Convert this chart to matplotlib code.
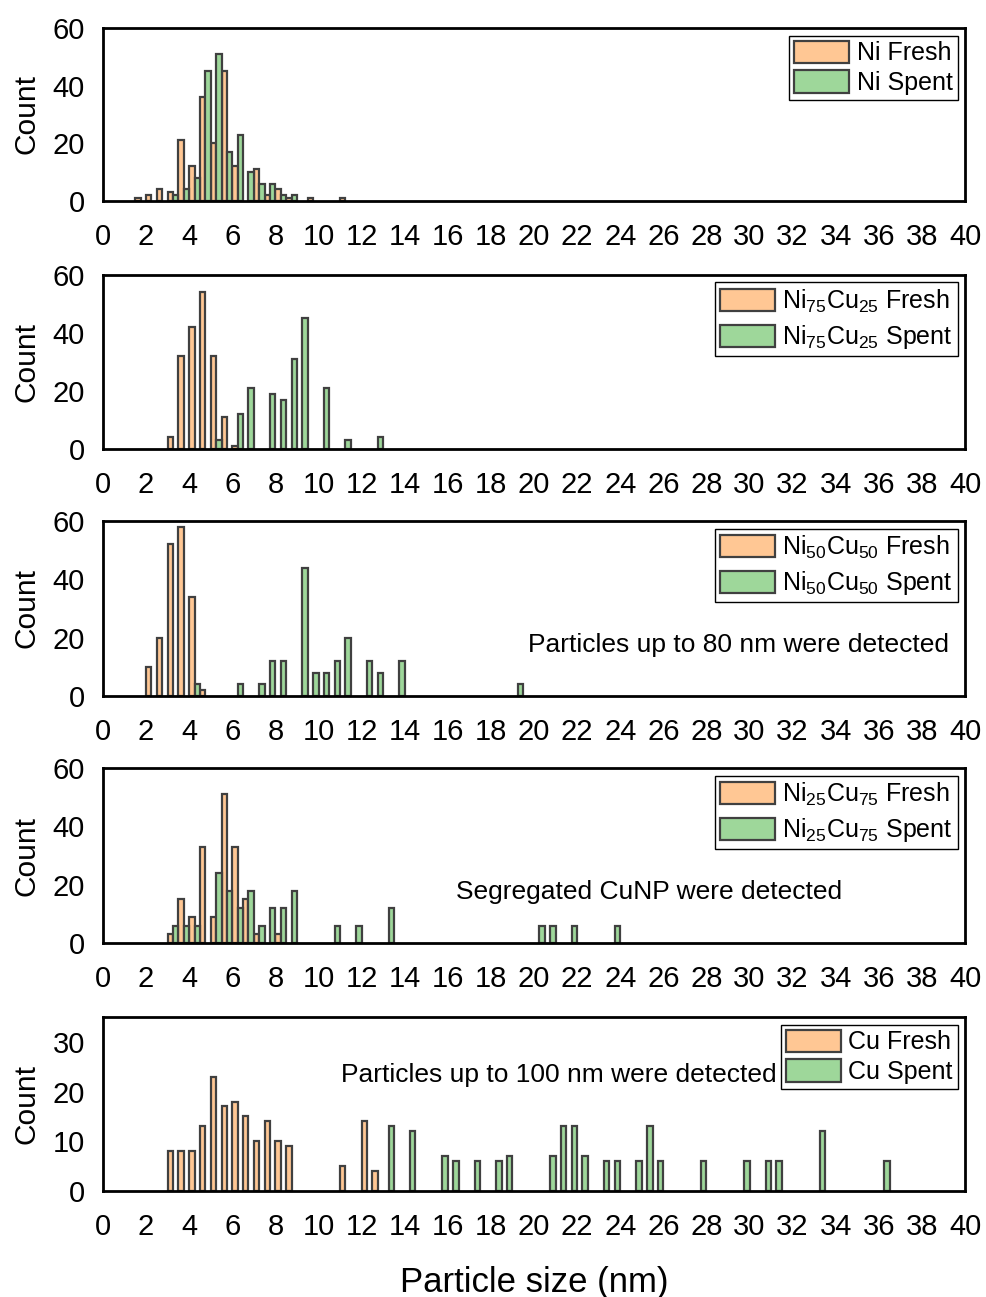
import matplotlib
matplotlib.use("Agg")
import matplotlib.pyplot as plt

plt.rcParams['font.family'] = ['Liberation Sans', 'DejaVu Sans']
plt.rcParams['mathtext.default'] = 'regular'

# bin left edges (nm) and counts, bins are 0.5 nm wide
ni_fresh_bins = [1.5, 2.0, 2.5, 3.0, 3.5, 4.0, 4.5, 5.0, 5.5, 6.0, 7.0, 7.5, 8.0, 8.5, 9.5, 11.0]
ni_fresh_counts = [1, 2, 4, 3, 21, 12, 36, 20, 45, 12, 11, 2, 4, 1, 1, 1]
ni_spent_bins = [3.0, 3.5, 4.0, 4.5, 5.0, 5.5, 6.0, 6.5, 7.0, 7.5, 8.0, 8.5]
ni_spent_counts = [2, 4, 8, 45, 51, 17, 23, 10, 6, 6, 2, 2]

ni75_fresh_bins = [3.0, 3.5, 4.0, 4.5, 5.0, 5.5, 6.0]
ni75_fresh_counts = [4, 32, 42, 54, 32, 11, 1]
ni75_spent_bins = [5.0, 6.0, 6.5, 7.5, 8.0, 8.5, 9.0, 10.0, 11.0, 12.5]
ni75_spent_counts = [3, 12, 21, 19, 17, 31, 45, 21, 3, 4]

ni50_fresh_bins = [2.0, 2.5, 3.0, 3.5, 4.0, 4.5]
ni50_fresh_counts = [10, 20, 52, 58, 34, 2]
ni50_spent_bins = [4.0, 6.0, 7.0, 7.5, 8.0, 9.0, 9.5, 10.0, 10.5, 11.0, 12.0, 12.5, 13.5, 19.0]
ni50_spent_counts = [4, 4, 4, 12, 12, 44, 8, 8, 12, 20, 12, 8, 12, 4]

ni25_fresh_bins = [3.0, 3.5, 4.0, 4.5, 5.0, 5.5, 6.0, 6.5, 7.0, 8.0]
ni25_fresh_counts = [3, 15, 9, 33, 9, 51, 33, 15, 3, 3]
ni25_spent_bins = [3.0, 3.5, 4.0, 5.0, 5.5, 6.0, 6.5, 7.0, 7.5, 8.0, 8.5, 10.5, 11.5, 13.0,
                   20.0, 20.5, 21.5, 23.5]
ni25_spent_counts = [6, 6, 6, 24, 18, 12, 18, 6, 12, 12, 18, 6, 6, 12, 6, 6, 6, 6]

cu_fresh_bins = [3.0, 3.5, 4.0, 4.5, 5.0, 5.5, 6.0, 6.5, 7.0, 7.5, 8.0, 8.5, 11.0, 12.0, 12.5]
cu_fresh_counts = [8, 8, 8, 13, 23, 17, 18, 15, 10, 14, 10, 9, 5, 14, 4]
cu_spent_bins = [13.0, 14.0, 15.5, 16.0, 17.0, 18.0, 18.5, 20.5, 21.0, 21.5, 22.0, 23.0, 23.5,
                 24.5, 25.0, 25.5, 27.5, 29.5, 30.5, 31.0, 33.0, 36.0]
cu_spent_counts = [13, 12, 7, 6, 6, 6, 7, 7, 13, 13, 7, 6, 6, 6, 13, 6, 6, 6, 6, 6, 12, 6]

fresh_labels = ['Ni Fresh', r'Ni$_{75}$Cu$_{25}$ Fresh', r'Ni$_{50}$Cu$_{50}$ Fresh',
                r'Ni$_{25}$Cu$_{75}$ Fresh', 'Cu Fresh']
spent_labels = ['Ni Spent', r'Ni$_{75}$Cu$_{25}$ Spent', r'Ni$_{50}$Cu$_{50}$ Spent',
                r'Ni$_{25}$Cu$_{75}$ Spent', 'Cu Spent']
notes = [None, None, 'Particles up to 80 nm were detected',
         'Segregated CuNP were detected', 'Particles up to 100 nm were detected']

fresh_data = [(ni_fresh_bins, ni_fresh_counts), (ni75_fresh_bins, ni75_fresh_counts),
              (ni50_fresh_bins, ni50_fresh_counts), (ni25_fresh_bins, ni25_fresh_counts),
              (cu_fresh_bins, cu_fresh_counts)]
spent_data = [(ni_spent_bins, ni_spent_counts), (ni75_spent_bins, ni75_spent_counts),
              (ni50_spent_bins, ni50_spent_counts), (ni25_spent_bins, ni25_spent_counts),
              (cu_spent_bins, cu_spent_counts)]

fresh_color = '#FFC794'
spent_color = '#9ED79A'
edge_color = '#404040'
bar_w = 0.25

fig = plt.figure(figsize=(9.86, 12.97), dpi=100)
H = 1297.0
W = 986.0
# (top, bottom) of each axes in pixels
panel_px = [(28, 201), (275, 449), (521, 696), (768, 943), (1017, 1191)]

for i in range(5):
    top, bot = panel_px[i]
    ax = fig.add_axes([103 / W, 1 - bot / H, 862 / W, (bot - top) / H])

    fb, fc = fresh_data[i]
    sb, sc = spent_data[i]
    ax.bar(fb, fc, width=bar_w, align='edge', color=fresh_color, edgecolor=edge_color,
           linewidth=1.6, label=fresh_labels[i])
    ax.bar([b + bar_w for b in sb], sc, width=bar_w, align='edge', color=spent_color,
           edgecolor=edge_color, linewidth=1.6, label=spent_labels[i])

    ax.set_xlim(0, 40)
    ax.set_xticks(range(0, 41, 2))
    if i < 4:
        ax.set_ylim(0, 60)
        ax.set_yticks([0, 20, 40, 60])
    else:
        ax.set_ylim(0, 35)
        ax.set_yticks([0, 10, 20, 30])

    for s in ax.spines.values():
        s.set_linewidth(2.0)
        s.set_color('black')
    ax.tick_params(axis='both', length=0, labelsize=21)
    ax.tick_params(axis='x', pad=16)
    ax.tick_params(axis='y', pad=13)

    ax.set_ylabel('Count', fontsize=21.5)
    ax.yaxis.set_label_coords(-0.072, 0.5)

    # mathtext labels get a bit more row spacing, like the reference
    spacing = 0.2 if i in (0, 4) else 0.35
    leg = ax.legend(loc='upper right', fontsize=18, frameon=True, fancybox=False,
                    edgecolor='black', framealpha=1, borderaxespad=0.3, borderpad=0.2,
                    labelspacing=spacing, handlelength=2.2, handleheight=1.0,
                    handletextpad=0.3)
    leg.get_frame().set_linewidth(1.0)

    if i == 2:
        ax.text(0.981, 0.29, notes[i], transform=ax.transAxes, ha='right', va='center',
                fontsize=19)
    if i == 3:
        ax.text(0.633, 0.29, notes[i], transform=ax.transAxes, ha='center', va='center',
                fontsize=19)
    if i == 4:
        ax.text(0.782, 0.667, notes[i], transform=ax.transAxes, ha='right', va='center',
                fontsize=19)
        ax.set_xlabel('Particle size (nm)', fontsize=25, labelpad=18)

fig.savefig('out.png', dpi=100)
